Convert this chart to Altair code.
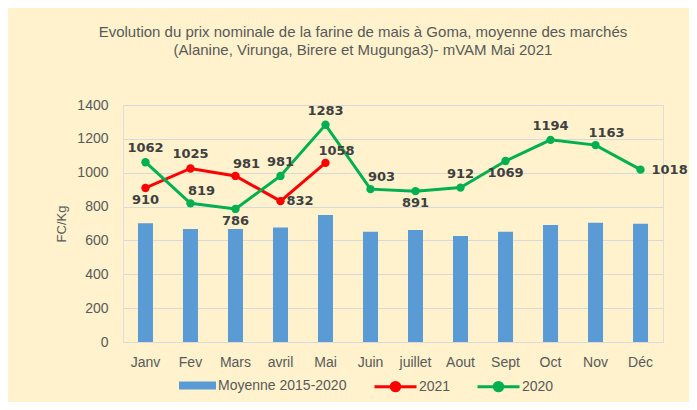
import altair as alt
import pandas as pd

# ---- data ----
months = ["Janv", "Fev", "Mars", "avril", "Mai", "Juin", "juillet", "Aout", "Sept", "Oct", "Nov", "Déc"]
moyenne_2015_2020 = [701, 667, 667, 677, 750, 651, 661, 626, 651, 691, 705, 699]
prix_2021 = [910, 1025, 981, 832, 1058]
prix_2020 = [1062, 819, 786, 981, 1283, 903, 891, 912, 1069, 1194, 1163, 1018]

# label placement (style) for each point
place_2021 = ["below", "above", "aboveright", "right", "aboveright"]
place_2020 = ["above", "aboveright", "below", "above", "above", "aboveright",
              "below", "above", "below", "above", "aboveright", "farright"]

bars_df = pd.DataFrame({"mois": months, "prix": moyenne_2015_2020,
                        "serie": ["Moyenne 2015-2020"] * len(months)})
lines_df = pd.concat([
    pd.DataFrame({"mois": months[:len(prix_2021)], "prix": prix_2021,
                  "serie": "2021", "pos": place_2021}),
    pd.DataFrame({"mois": months, "prix": prix_2020,
                  "serie": "2020", "pos": place_2020}),
], ignore_index=True)

FONT = "Liberation Sans"
TXT = "#595959"

x = alt.X("mois:N", sort=months, title=None,
          scale=alt.Scale(paddingInner=0.667, paddingOuter=0.333),
          axis=alt.Axis(domain=False, ticks=False, labelAngle=0, labelPadding=13,
                        labelFont=FONT, labelFontSize=14, labelColor=TXT))
y = alt.Y("prix:Q", title="FC/Kg",
          scale=alt.Scale(domain=[0, 1400], nice=False),
          axis=alt.Axis(values=list(range(0, 1401, 200)), format="d",
                        domain=False, ticks=False,
                        labelPadding=15, labelFont=FONT, labelFontSize=14,
                        labelColor=TXT, gridColor="#D9D9D9", gridWidth=1.2,
                        titleFont=FONT, titleFontSize=13,
                        titleFontWeight="normal", titleColor=TXT, titlePadding=8))

bars = alt.Chart(bars_df).mark_bar(size=15).encode(
    x=x, y=y,
    color=alt.Color("serie:N",
                    scale=alt.Scale(domain=["Moyenne 2015-2020"], range=["#5B9BD5"]),
                    legend=alt.Legend(title=None, orient="none", legendX=56, legendY=262,
                                      symbolType="M-1,-0.22L1,-0.22L1,0.22L-1,0.22Z",
                                      symbolSize=1369, symbolStrokeWidth=0, padding=0,
                                      labelFont=FONT, labelFontSize=14,
                                      labelColor=TXT, labelOffset=2)),
)

line_color = alt.Color(
    "serie:N",
    scale=alt.Scale(domain=["2021", "2020"], range=["#FF0000", "#00B050"]),
    legend=alt.Legend(title=None, orient="none", legendX=250, legendY=259,
                      direction="horizontal", columnPadding=20, padding=0,
                      symbolType=("M-1,0L1,0"
                                  "M0.2,0A0.2,0.2,0,1,1,-0.2,0A0.2,0.2,0,1,1,0.2,0"
                                  "M0.1,0A0.1,0.1,0,1,1,-0.1,0A0.1,0.1,0,1,1,0.1,0"),
                      symbolSize=1764, symbolStrokeWidth=3,
                      labelFont=FONT, labelFontSize=14,
                      labelColor=TXT, labelOffset=1),
)

lines = alt.Chart(lines_df).mark_line(strokeWidth=3).encode(x=x, y=y, color=line_color)
points = alt.Chart(lines_df).mark_circle(size=70, opacity=1).encode(x=x, y=y, color=line_color)

placements = {
    "above": dict(dy=-14),
    "below": dict(dy=12),
    "aboveright": dict(dx=11, dy=-12),
    "right": dict(dx=6, align="left"),
    "farright": dict(dx=11, align="left"),
}
texts = []
for name, style in placements.items():
    texts.append(
        alt.Chart(lines_df).transform_filter(alt.datum.pos == name)
        .mark_text(font="DejaVu Sans", fontSize=13, fontWeight="bold",
                   color="#404040", baseline="middle", **style)
        .encode(x=x, y=y, text="prix:Q")
    )

inner = alt.layer(lines, points, *texts)

chart = alt.layer(bars, inner).resolve_scale(color="independent").properties(
    width=540, height=237,
    autosize=alt.AutoSizeParams(type="none"),
    padding={"left": 115, "top": 97, "right": 26, "bottom": 60},
    title=alt.TitleParams(
        ["Evolution du prix nominale de la farine de mais à Goma, moyenne des marchés",
         "(Alanine, Virunga, Birere et Mugunga3)- mVAM Mai 2021"],
        anchor="middle", dx=-30, offset=40, font=FONT, fontSize=15,
        fontWeight="normal", color=TXT, lineHeight=18),
).configure_view(stroke=None).configure(background="#FFF2CC")

chart.save("out.html", embed_options={"renderer": "svg", "actions": False})
